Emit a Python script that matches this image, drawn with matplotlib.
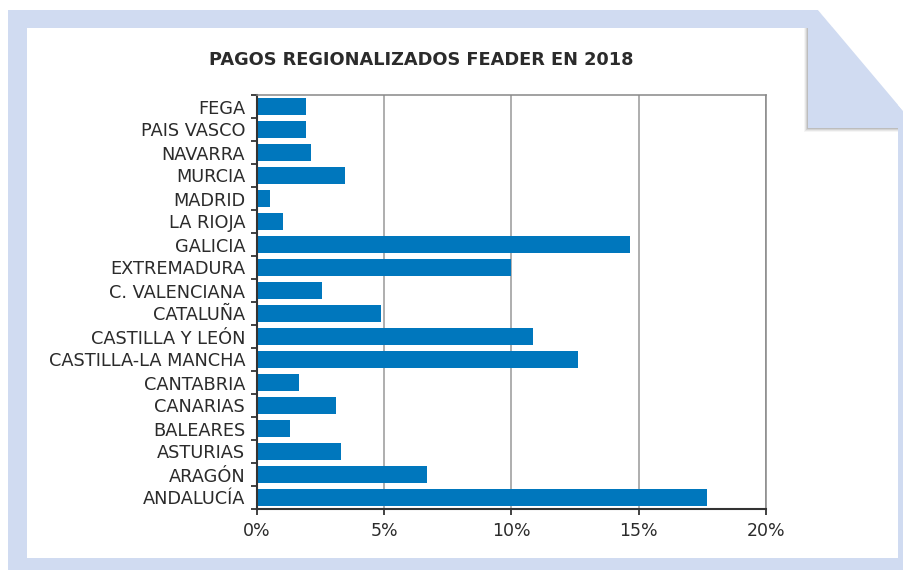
import matplotlib
matplotlib.use("Agg")
import matplotlib.pyplot as plt
from matplotlib.patches import Polygon
from matplotlib.ticker import FixedLocator, FuncFormatter

regions = ["FEGA", "PAIS VASCO", "NAVARRA", "MURCIA", "MADRID", "LA RIOJA",
           "GALICIA", "EXTREMADURA", "C. VALENCIANA", "CATALUÑA",
           "CASTILLA Y LEÓN", "CASTILLA-LA MANCHA", "CANTABRIA", "CANARIAS",
           "BALEARES", "ASTURIAS", "ARAGÓN", "ANDALUCÍA"]
shares = [1.94, 1.94, 2.13, 3.47, 0.52, 1.03, 14.66, 10.0, 2.56, 4.88,
          10.85, 12.62, 1.66, 3.11, 1.31, 3.31, 6.69, 17.68]
xticks = [0, 5, 10, 15, 20]
title = "PAGOS REGIONALIZADOS FEADER EN 2018"

W, H = 904, 570
fig = plt.figure(figsize=(W / 100, H / 100), dpi=100)
fig.patch.set_facecolor("white")

def P(x, y):
    return (x / W, 1 - y / H)

frame_col = "#D0DBF1"
fig.patches.append(Polygon([P(8, 10), P(818, 10), P(904, 112), P(904, 570), P(8, 570)],
                           closed=True, transform=fig.transFigure, facecolor=frame_col,
                           edgecolor="none", zorder=0))
fig.patches.append(Polygon([P(27, 28), P(898, 28), P(898, 558), P(27, 558)],
                           closed=True, transform=fig.transFigure, facecolor="white",
                           edgecolor="none", zorder=0.1))
for i, a in enumerate([0.04, 0.06, 0.08, 0.10]):
    d = 4 - i
    fig.patches.append(Polygon([P(808 - d, 28), P(898, 28), P(898, 128 + d), P(808 - d, 128 + d)],
                               closed=True, transform=fig.transFigure, facecolor="black",
                               alpha=a, edgecolor="none", zorder=0.2))
fig.patches.append(Polygon([P(808, 27), P(898, 27), P(898, 128), P(808, 128)],
                           closed=True, transform=fig.transFigure, facecolor=frame_col,
                           edgecolor="none", zorder=0.3))
fig.patches.append(Polygon([P(818, 10), P(898, 10), P(898, 105)],
                           closed=True, transform=fig.transFigure, facecolor=frame_col,
                           edgecolor="none", zorder=0.3))
fig.patches.append(Polygon([P(818, 10), P(904, 10), P(904, 112)],
                           closed=True, transform=fig.transFigure, facecolor="white",
                           edgecolor="none", zorder=0.4))

ax = fig.add_axes([257 / W, 1 - 509 / H, (766 - 257) / W, (509 - 95) / H])
ax.set_zorder(5)
ax.set_facecolor("none")
ypos = list(range(len(regions)))
ax.barh(ypos, shares, height=0.77, color="#0077BD", zorder=2)
ax.set_xlim(0, 20)
ax.set_ylim(len(regions) - 0.5, -0.5)

ax.set_xticks(xticks)
ax.xaxis.set_major_formatter(FuncFormatter(lambda v, p: f"{int(v)}%"))
ax.set_yticks(ypos)
ax.set_yticklabels(regions)
ax.yaxis.set_minor_locator(FixedLocator([i - 0.5 for i in range(len(regions) + 1)]))
ax.tick_params(axis="y", which="major", length=0, pad=8.5, labelsize=12.8, labelcolor="#2b2b2b")
ax.tick_params(axis="y", which="minor", length=4, width=1.3, color="#333333", direction="out")
ax.tick_params(axis="x", which="major", length=4, width=1.3, color="#333333", pad=5,
               labelsize=12.5, labelcolor="#2b2b2b")
for lab in ax.get_xticklabels() + ax.get_yticklabels():
    lab.set_fontfamily("DejaVu Sans")
for lab in ax.get_yticklabels():
    lab.set_verticalalignment("center_baseline")

ax.grid(axis="x", color="#999999", linewidth=1.1, zorder=1)
ax.set_axisbelow(True)
ax.spines["left"].set_color("#333333")
ax.spines["left"].set_linewidth(1.5)
ax.spines["bottom"].set_color("#333333")
ax.spines["bottom"].set_linewidth(1.5)
ax.spines["top"].set_color("#888888")
ax.spines["top"].set_linewidth(1.1)
ax.spines["right"].set_color("#888888")
ax.spines["right"].set_linewidth(1.1)

fig.text(421 / W, 1 - 65 / H, title, ha="center", va="baseline", fontsize=12.8,
         fontweight="bold", color="#2b2b2b", family="DejaVu Sans")

fig.savefig("out.png", dpi=100, facecolor="white")
